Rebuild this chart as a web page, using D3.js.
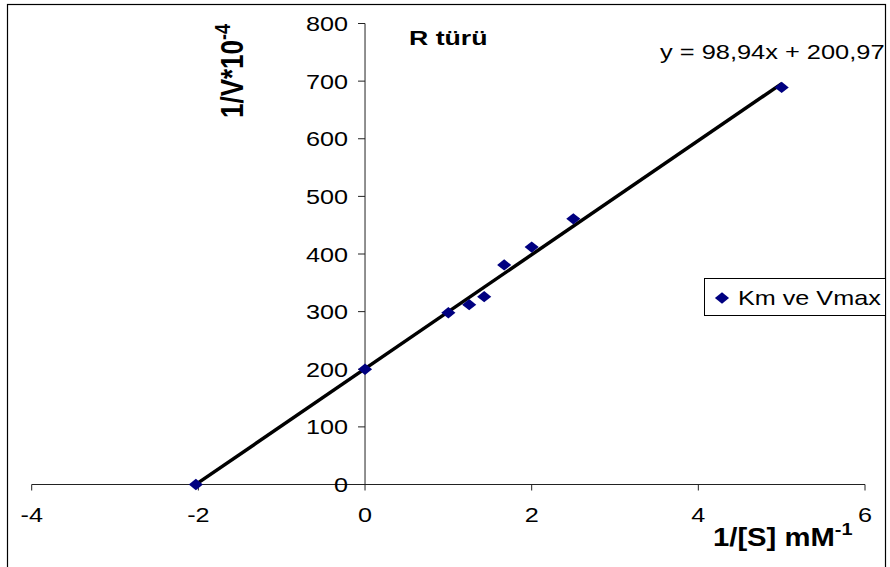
<!DOCTYPE html>
<html>
<head>
<meta charset="utf-8">
<script src="https://cdn.jsdelivr.net/npm/d3@7"></script>
<style>
  html, body { margin: 0; padding: 0; background: #fff; }
  svg { display: block; font-family: Arial, "Liberation Sans", sans-serif; }
</style>
</head>
<body>
<svg id="chart" width="890" height="567"></svg>
<script>
// ---- data ----
const xValues = [-2.03, 0, 1, 1.25, 1.43, 1.67, 2, 2.5, 5];
const yValues = [0, 200, 298, 312, 326, 381, 412, 461, 689];
const slope = 98.94;
const intercept = 200.97;
const xTicks = [-4, -2, 0, 2, 4, 6];
const yTicks = [0, 100, 200, 300, 400, 500, 600, 700, 800];
const title = "R türü";
const seriesName = "Km ve Vmax";
const equation = "y = 98,94x + 200,97";

// ---- layout ----
const SX = 1.2; // horizontal stretch of the original picture
const svg = d3.select("#chart");
const x = d3.scaleLinear().domain([-4, 6]).range([31.7, 865]);
const y = d3.scaleLinear().domain([0, 800]).range([484.5, 23.5]);

function stext(px, py, str, opts) {
  const g = svg.append("g").attr("transform", `translate(${px},${py}) scale(${opts.sx || SX},1)`);
  const t = g.append("text")
    .attr("x", 0).attr("y", 0)
    .attr("text-anchor", opts.anchor || "start")
    .attr("font-size", opts.size)
    .attr("font-weight", opts.weight || "normal")
    .attr("fill", "#000")
    .text(str);
  return t;
}

// outer border
svg.append("rect").attr("x", 7.5).attr("y", 4.5).attr("width", 878).attr("height", 580)
  .attr("fill", "none").attr("stroke", "#000").attr("stroke-width", 1.2);

// x axis
svg.append("line").attr("x1", x(-4)).attr("x2", x(6)).attr("y1", y(0)).attr("y2", y(0))
  .attr("stroke", "#222").attr("stroke-width", 1);
xTicks.forEach(v => {
  svg.append("line").attr("x1", x(v)).attr("x2", x(v)).attr("y1", y(0)).attr("y2", y(0) + 6)
    .attr("stroke", "#222").attr("stroke-width", 1);
  stext(x(v), 522, String(v), { size: 21, anchor: "middle" });
});

// y axis
svg.append("line").attr("x1", x(0)).attr("x2", x(0)).attr("y1", y(0)).attr("y2", y(800))
  .attr("stroke", "#222").attr("stroke-width", 1);
yTicks.forEach(v => {
  svg.append("line").attr("x1", x(0) - 7).attr("x2", x(0)).attr("y1", y(v)).attr("y2", y(v))
    .attr("stroke", "#222").attr("stroke-width", 1);
  stext(348, y(v) + 7.5, String(v), { size: 21, anchor: "end" });
});

// trend line
const x0 = d3.min(xValues), x1 = d3.max(xValues);
svg.append("line")
  .attr("x1", x(x0)).attr("y1", y(slope * x0 + intercept))
  .attr("x2", x(x1)).attr("y2", y(slope * x1 + intercept))
  .attr("stroke", "#000").attr("stroke-width", 3.5).attr("stroke-linecap", "butt");

// markers
const diamond = d3.symbol().type(d3.symbolSquare).size(64)();
xValues.forEach((xv, i) => {
  svg.append("path").attr("d", diamond)
    .attr("transform", `translate(${x(xv)},${y(yValues[i])}) scale(1.25,1) rotate(45)`)
    .attr("fill", "#000080");
});

// title
stext(409, 45, title, { size: 21, weight: "bold", sx: 1.27 });

// equation
stext(660, 59, equation, { size: 21, sx: 1.21 });

// y axis label (rotated)
const yl = svg.append("g").attr("transform", "translate(243,118) scale(1.2,1) rotate(-90)");
const ylt = yl.append("text").attr("x", 0).attr("y", 0).attr("font-size", 26).attr("font-weight", "bold");
ylt.append("tspan").text("1/V*10");
ylt.append("tspan").attr("dy", -11).attr("font-size", 18).text("-4");

// x axis label
const xl = svg.append("g").attr("transform", "translate(713,546) scale(1.17,1)");
const xlt = xl.append("text").attr("x", 0).attr("y", 0).attr("font-size", 25).attr("font-weight", "bold");
xlt.append("tspan").text("1/[S] mM");
xlt.append("tspan").attr("dy", -11).attr("font-size", 17).text("-1");

// legend
svg.append("rect").attr("x", 704.5).attr("y", 278.5).attr("width", 181).attr("height", 37)
  .attr("fill", "#fff").attr("stroke", "#000").attr("stroke-width", 1);
svg.append("path").attr("d", diamond)
  .attr("transform", `translate(722,298) scale(1.25,1) rotate(45)`)
  .attr("fill", "#000080");
stext(738, 305, seriesName, { size: 20, sx: 1.26 });
</script>
</body>
</html>
